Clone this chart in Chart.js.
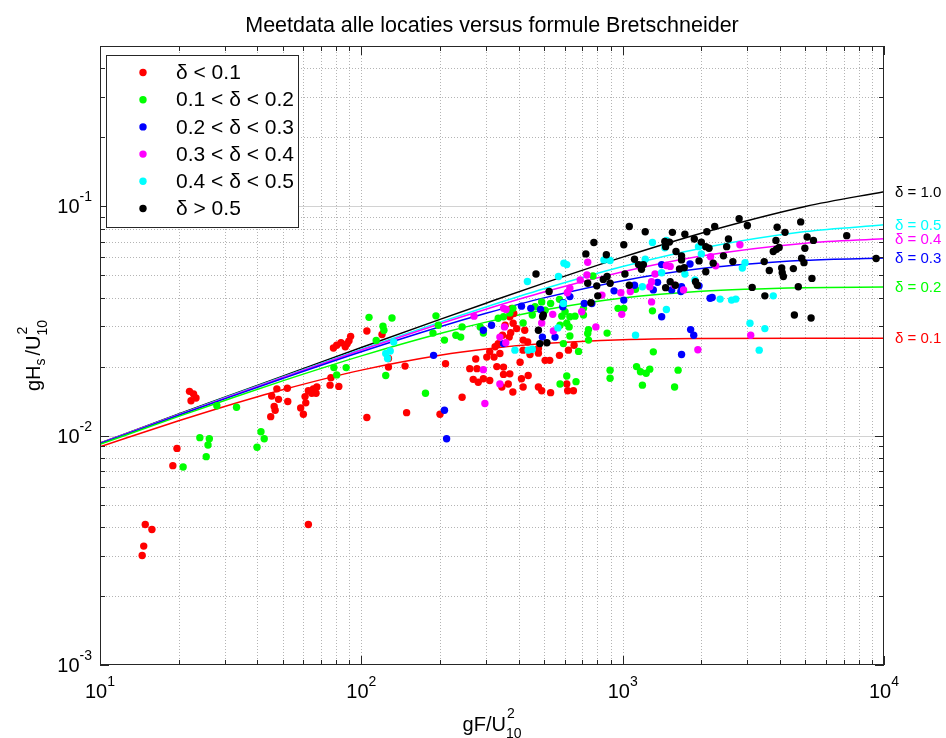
<!DOCTYPE html>
<html>
<head>
<meta charset="utf-8">
<style>
  body { margin: 0; background: #fff; }
</style>
</head>
<body>
<canvas id="myChart" width="946" height="738"></canvas>
<script src="https://cdn.jsdelivr.net/npm/chart.js@4.4.1/dist/chart.umd.min.js"></script>
<script>
// --- data ---
const titleText = 'Meetdata alle locaties versus formule Bretschneider';
const legendLabels = ['\u03b4 < 0.1', '0.1 < \u03b4 < 0.2', '0.2 < \u03b4 < 0.3', '0.3 < \u03b4 < 0.4', '0.4 < \u03b4 < 0.5', '\u03b4 > 0.5'];
const curveLabels = ['\u03b4 = 0.1', '\u03b4 = 0.2', '\u03b4 = 0.3', '\u03b4 = 0.4', '\u03b4 = 0.5', '\u03b4 = 1.0'];
const xTicks = [10, 100, 1000, 10000];
const xTickExp = ['1', '2', '3', '4'];
const yTicks = [0.001, 0.01, 0.1];
const yTickExp = ['-3', '-2', '-1'];

// gF/U^2 values where the curves were read
const curveF = [10, 20, 30, 50, 100, 200, 300, 500, 1000, 2000, 5000, 10000];
const curve01 = [0.00894, 0.01161, 0.01341, 0.01586, 0.01931, 0.02242, 0.02388, 0.02520, 0.02618, 0.02651, 0.02659, 0.02659];
const curve02 = [0.00917, 0.01214, 0.01424, 0.01733, 0.02227, 0.02788, 0.03126, 0.03532, 0.03983, 0.04267, 0.04419, 0.04444];
const curve03 = [0.00923, 0.01227, 0.01447, 0.01774, 0.02320, 0.02983, 0.03415, 0.03988, 0.04740, 0.05350, 0.05816, 0.05946];
const curve04 = [0.00926, 0.01233, 0.01457, 0.01793, 0.02362, 0.03076, 0.03559, 0.04227, 0.05182, 0.06072, 0.06909, 0.07223];
const curve05 = [0.00927, 0.01236, 0.01462, 0.01802, 0.02384, 0.03126, 0.03640, 0.04368, 0.05461, 0.06566, 0.07759, 0.08300];
const curve10 = [0.00929, 0.01242, 0.01470, 0.01818, 0.02422, 0.03214, 0.03781, 0.04624, 0.06005, 0.07635, 0.09981, 0.11588];

// measured points [gF/U^2, gHs/U^2]
const ptsLt01 = [[22,0.0156],[22.8,0.0152],[22.3,0.0142],[23.3,0.0146],[19.7,0.0088],[19.0,0.0074],[14.9,0.0041],[15.8,0.0039],[14.5,0.0030],[14.7,0.0033],
  [62.7,0.0041],[47.5,0.0160],[52.1,0.0161],[45.4,0.0149],[48.2,0.0144],[52.3,0.0141],[46.4,0.0134],[46.8,0.0129],[45.0,0.0121],
  [58.6,0.0132],[60,0.0124],[61.3,0.0139],[60.9,0.0148],[62.7,0.0157],[64.6,0.0153],[67.6,0.0163],[67.1,0.0153],[65.5,0.0160],
  [75.9,0.0166],[76.5,0.0179],[82,0.0164],[78.2,0.0241],[83.6,0.0254],[88.3,0.0252],[91,0.0271],[89.7,0.0259],[80.5,0.0248],[86.8,0.0244],
  [105,0.0286],[120,0.0276],[127,0.0217],[127,0.0199],[147,0.0201],[105,0.0120],[149,0.0126],[200,0.0124],[210,0.0206],[243,0.0147],
  [260,0.0196],[268,0.0176],[280,0.0171],[274,0.0216],[355,0.0303],[373,0.0281],[381,0.0309],[393,0.0293],[422,0.0288],[416,0.0261],
  [347,0.0274],[368,0.0269],[334,0.0252],[325,0.0244],[310,0.0232],[302,0.0220],[322,0.0220],[339,0.0228],[277,0.0196],[293,0.0177],
  [310,0.0174],[330,0.0200],[350,0.0199],[350,0.0185],[370,0.0186],[345,0.0163],[365,0.0168],[380,0.0155],[405,0.0209],[416,0.0236],
  [442,0.0226],[476,0.0240],[476,0.0229],[433,0.0256],[410,0.0177],[416,0.0163],[435,0.0183],[476,0.0163],[490,0.0157],[530,0.0154],
  [505,0.0213],[526,0.0213],[573,0.0224],[620,0.0236],[652,0.0248],[616,0.0157],[648,0.0157],[611,0.0168],[376,0.0359],[383,0.0341],[370,0.0330]];
const ptsLt02 = [[28.0,0.0135],[33.3,0.0133],[24.1,0.0098],[26.2,0.0097],[25.9,0.0091],[25.5,0.0081],[20.8,0.0073],[41.3,0.0104],[42.5,0.0097],[39.9,0.0089],
  [78.5,0.0198],[87.5,0.0198],[80.5,0.0184],[107,0.0328],[131,0.0326],[121,0.0300],[122,0.0288],[114,0.0260],[124,0.0183],[176,0.0153],
  [193,0.0333],[188,0.0280],[208,0.0261],[197,0.0303],[243,0.0298],[230,0.0274],[240,0.0269],[285,0.0298],[293,0.0280],[334,0.0325],
  [350,0.0330],[380,0.0359],[370,0.0343],[416,0.0310],[451,0.0336],[462,0.0365],[490,0.0383],[505,0.0352],[573,0.0393],[585,0.0332],
  [602,0.0347],[628,0.0330],[657,0.0332],[576,0.0303],[611,0.0309],[624,0.0298],[708,0.0336],[708,0.0359],[740,0.0290],[735,0.0279],
  [740,0.0261],[872,0.0280],[628,0.0272],[593,0.0252],[678,0.0233],[960,0.0359],[1010,0.0359],[770,0.0497],[895,0.0193],[895,0.0178],
  [611,0.0182],[663,0.0172],[576,0.0168],[530,0.0377],[1300,0.0350],[1120,0.0435],[1310,0.0232],[1130,0.0200],[1170,0.0190],[1230,0.0187],
  [1270,0.0195],[1190,0.0166],[1630,0.0193],[1580,0.0163]];
const ptsLt03 = [[189,0.0224],[208,0.0129],[212,0.0097],[410,0.0367],[445,0.0359],[485,0.0355],[628,0.0404],[593,0.0380],[590,0.0365],[713,0.0377],
  [762,0.0377],[927,0.0428],[1010,0.0390],[315,0.0303],[293,0.0288],[493,0.0269],[551,0.0269],[350,0.0252],[1810,0.0560],[1410,0.0557],
  [1360,0.0466],[1310,0.0432],[1540,0.0432],[1680,0.0446],[1670,0.0425],[1960,0.0450],[2160,0.0397],[2200,0.0400],[1110,0.0453],[1410,0.0330],
  [1820,0.0290],[1870,0.0274],[1680,0.0226]];
const ptsLt04 = [[270,0.0332],[735,0.0570],[730,0.0502],[688,0.0477],[628,0.0439],[614,0.0420],[540,0.0338],[697,0.0347],[490,0.0310],[350,0.0359],
  [358,0.0355],[353,0.0298],[357,0.0254],[339,0.0269],[790,0.0298],[992,0.0338],[984,0.0420],[293,0.0194],[339,0.0168],[297,0.0138],
  [543,0.0286],[833,0.0410],[1470,0.0552],[1520,0.0547],[1330,0.0507],[1290,0.0469],[1270,0.0446],[1580,0.0453],[1710,0.0432],[2170,0.0603],
  [2270,0.0550],[2810,0.0680],[1070,0.0425],[1290,0.0383],[1940,0.0237],[3090,0.0274]];
const ptsLt05 = [[124,0.0228],[126,0.0217],[129,0.0234],[133,0.0256],[596,0.0565],[611,0.0557],[432,0.0470],[568,0.0494],[848,0.0584],[895,0.0580],
  [387,0.0236],[435,0.0236],[451,0.0238],[565,0.0295],[593,0.0377],[1300,0.0695],[1470,0.0710],[1450,0.0660],[1950,0.0667],[2000,0.0620],
  [1220,0.0588],[1410,0.0513],[1730,0.0507],[1190,0.0446],[2360,0.0394],[2610,0.0390],[2710,0.0394],[1470,0.0355],[1120,0.0274],[2940,0.0568],
  [2870,0.0538],[3070,0.0309],[3330,0.0236],[1890,0.0477],[3770,0.0407],[3500,0.0293]];
const ptsGt05 = [[776,0.0695],[723,0.0620],[866,0.0615],[1010,0.0680],[466,0.0507],[523,0.0425],[735,0.0462],[796,0.0450],[843,0.0480],[872,0.0494],
  [895,0.0462],[1020,0.0507],[1060,0.0453],[803,0.0407],[497,0.0336],[494,0.0330],[476,0.0288],[482,0.0252],[513,0.0254],[1060,0.0817],[756,0.0380],
  [1220,0.0775],[1550,0.0770],[1730,0.0755],[1880,0.0720],[2100,0.0775],[2250,0.0817],[2790,0.0883],[3000,0.0825],[1450,0.0703],[1510,0.0698],
  [1460,0.0667],[1600,0.0635],[1680,0.0608],[1680,0.0584],[2000,0.0698],[2080,0.0667],[2140,0.0656],[2540,0.0720],[2500,0.0667],[2430,0.0608],
  [1110,0.0588],[1200,0.0557],[1150,0.0557],[1180,0.0531],[1960,0.0578],[2220,0.0565],[2640,0.0574],[1650,0.0533],[1720,0.0540],[2080,0.0518],
  [1520,0.0469],[1460,0.0442],[1590,0.0453],[1900,0.0469],[1930,0.0453],[3130,0.0443],[4800,0.0855],[3900,0.0810],[4180,0.0770],[5080,0.0735],
  [5370,0.0710],[3860,0.0710],[4980,0.0656],[3770,0.0635],[3880,0.0650],[3970,0.0662],[7200,0.0745],[3480,0.0574],[4840,0.0594],[4940,0.0568],
  [3640,0.0525],[4060,0.0538],[4080,0.0513],[4120,0.0494],[4500,0.0535],[5300,0.0485],[9330,0.0592],[4700,0.0446],[3500,0.0407],[4540,0.0336],[5260,0.0326]];

const colors = ['#ff0000', '#00ff00', '#0000ff', '#ff00ff', '#00ffff', '#000000'];
const FONT = "'Liberation Sans', Arial, Helvetica, sans-serif";

const toPts = arr => arr.map(p => ({x: p[0], y: p[1]}));
const dotSet = (label, arr, color, order) => ({
  label, data: toPts(arr), backgroundColor: color, borderWidth: 0,
  pointRadius: 3.7, pointHoverRadius: 3.7, showLine: false, order
});
const curveSet = (label, arr, color) => ({
  label, data: curveF.map((f, i) => ({x: f, y: arr[i]})), borderColor: color, borderWidth: 1.5,
  pointRadius: 0, showLine: true, fill: false, cubicInterpolationMode: 'monotone', order: 10
});

const curves = [curve01, curve02, curve03, curve04, curve05, curve10];
const datasets = [
  dotSet(legendLabels[0], ptsLt01, colors[0], 5),
  dotSet(legendLabels[1], ptsLt02, colors[1], 4),
  dotSet(legendLabels[2], ptsLt03, colors[2], 3),
  dotSet(legendLabels[3], ptsLt04, colors[3], 2),
  dotSet(legendLabels[4], ptsLt05, colors[4], 1),
  dotSet(legendLabels[5], ptsGt05, colors[5], 0)
];
curves.forEach((c, i) => datasets.push(curveSet(curveLabels[i], c, colors[i])));

function text(ctx, s, x, y, size, align, color) {
  ctx.font = size + 'px ' + FONT;
  ctx.textAlign = align || 'left';
  ctx.textBaseline = 'alphabetic';
  ctx.fillStyle = color || '#000';
  ctx.fillText(s, x, y);
}
function width(ctx, s, size) {
  ctx.font = size + 'px ' + FONT;
  return ctx.measureText(s).width;
}
function seg(ctx, x1, y1, x2, y2) {
  ctx.beginPath(); ctx.moveTo(x1, y1); ctx.lineTo(x2, y2); ctx.stroke();
}
// base text followed by stacked superscript "2" and subscript "10"
function unitLabel(ctx, pieces, cx, base) {
  let total = 0;
  pieces.forEach(p => total += width(ctx, p[0], p[1]) + (p[3] || 0));
  total += width(ctx, '10', 14);
  let x = cx - total / 2;
  pieces.forEach(p => { text(ctx, p[0], x, base + p[2], p[1]); x += width(ctx, p[0], p[1]) + (p[3] || 0); });
  text(ctx, '2', x + 1, base - 13, 14);
  text(ctx, '10', x, base + 7, 14);
}

const decor = {
  id: 'decor',
  beforeDatasetsDraw(chart) {
    const {ctx, chartArea: a, scales: {x, y}} = chart;
    ctx.save();
    ctx.lineWidth = 1;
    // vertical grid
    ctx.strokeStyle = '#b4b4b4';
    ctx.setLineDash([1, 2]);
    for (let d = 10; d < 10000; d *= 10) {
      for (let m = 1; m < 10; m++) {
        const v = d * m;
        if (v <= 10) continue;
        const px = Math.round(x.getPixelForValue(v)) + 0.5;
        seg(ctx, px, a.top, px, a.bottom);
      }
    }
    // horizontal grid
    for (let d = 0.001; d < 0.5; d *= 10) {
      for (let m = 1; m < 10; m++) {
        const v = d * m;
        if (v <= 0.0011 || v >= 0.499) continue;
        const py = Math.round(y.getPixelForValue(v)) + 0.5;
        if (m === 1) { ctx.setLineDash([]); ctx.strokeStyle = '#d2d2d2'; }
        else { ctx.setLineDash([1, 2]); ctx.strokeStyle = '#b4b4b4'; }
        seg(ctx, a.left, py, a.right, py);
      }
    }
    ctx.restore();
  },
  afterDatasetsDraw(chart) {
    const {ctx, chartArea: a, scales: {x, y}} = chart;
    ctx.save();
    ctx.strokeStyle = '#262626';
    ctx.lineWidth = 1;
    ctx.setLineDash([]);
    ctx.strokeRect(a.left + 0.5, a.top + 0.5, a.right - a.left - 1, a.bottom - a.top - 1);
    // inward tick marks on all four sides
    for (let d = 10; d <= 10000; d *= 10) {
      for (let m = 1; m < 10; m++) {
        const v = d * m;
        if (v > 10000) break;
        const px = Math.round(x.getPixelForValue(v)) + 0.5;
        const len = m === 1 ? 9 : 5;
        seg(ctx, px, a.bottom, px, a.bottom - len);
        seg(ctx, px, a.top, px, a.top + len);
      }
    }
    for (let d = 0.001; d < 0.5; d *= 10) {
      for (let m = 1; m < 10; m++) {
        const v = d * m;
        if (v > 0.5) break;
        const py = Math.round(y.getPixelForValue(v)) + 0.5;
        const len = m === 1 ? 9 : 5;
        seg(ctx, a.left, py, a.left + len, py);
        seg(ctx, a.right, py, a.right - len, py);
      }
    }
    // tick labels
    xTicks.forEach((v, i) => {
      const px = x.getPixelForValue(v);
      const w1 = width(ctx, '10', 20), w2 = width(ctx, xTickExp[i], 14);
      const x0 = px - (w1 + w2) / 2;
      text(ctx, '10', x0, a.bottom + 33, 20);
      text(ctx, xTickExp[i], x0 + w1, a.bottom + 21, 14);
    });
    yTicks.forEach((v, i) => {
      const py = y.getPixelForValue(v);
      const w2 = width(ctx, yTickExp[i], 14);
      text(ctx, yTickExp[i], 92, py - 5, 14, 'right');
      text(ctx, '10', 92 - w2, py + 7, 20, 'right');
    });
    // title
    text(ctx, titleText, (a.left + a.right) / 2, 32, 21.5, 'center');
    // axis titles
    unitLabel(ctx, [['gF/U', 20, 0]], (a.left + a.right) / 2, 731);
    ctx.save();
    ctx.translate(40, (a.top + a.bottom) / 2);
    ctx.rotate(-Math.PI / 2);
    unitLabel(ctx, [['gH', 20, 0], ['s', 14, 5, 3], ['/U', 20, 0]], 0, 0);
    ctx.restore();
    // curve labels at right
    curves.forEach((c, i) => {
      const py = y.getPixelForValue(c[c.length - 1]);
      ctx.font = '15px ' + FONT;
      ctx.textBaseline = 'middle';
      ctx.textAlign = 'left';
      ctx.fillStyle = colors[i];
      ctx.fillText(curveLabels[i], a.right + 11, py + 1);
    });
    // legend
    ctx.fillStyle = '#fff';
    ctx.fillRect(106.5, 55.5, 192, 172);
    ctx.strokeStyle = '#262626';
    ctx.strokeRect(106.5, 55.5, 192, 172);
    legendLabels.forEach((s, i) => {
      const ry = 72.5 + i * 27.2;
      ctx.beginPath();
      ctx.arc(143, ry, 3.7, 0, Math.PI * 2);
      ctx.fillStyle = colors[i];
      ctx.fill();
      ctx.font = '21px ' + FONT;
      ctx.textBaseline = 'middle';
      ctx.textAlign = 'left';
      ctx.fillStyle = '#000';
      ctx.fillText(s, 176, ry + 1);
    });
    ctx.restore();
  }
};

new Chart('myChart', {
  type: 'scatter',
  data: { datasets },
  options: {
    responsive: false,
    animation: false,
    devicePixelRatio: 1,
    layout: { padding: { left: 0, right: 62, top: 46, bottom: 0 } },
    plugins: { legend: { display: false }, tooltip: { enabled: false }, title: { display: false } },
    scales: {
      x: { type: 'logarithmic', min: 10, max: 10000, ticks: { display: false }, grid: { display: false }, border: { display: false },
           afterFit(s) { s.height = 73; } },
      y: { type: 'logarithmic', min: 0.001, max: 0.5, ticks: { display: false }, grid: { display: false }, border: { display: false },
           afterFit(s) { s.width = 100; } }
    }
  },
  plugins: [decor]
});
</script>
</body>
</html>
